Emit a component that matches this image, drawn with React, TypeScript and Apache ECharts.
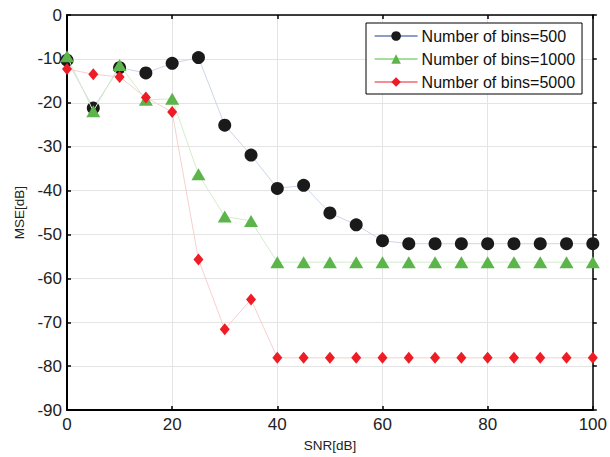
import React, { useEffect, useRef } from "react";
import * as echarts from "echarts";

const snr = [0, 5, 10, 15, 20, 25, 30, 35, 40, 45, 50, 55, 60, 65, 70, 75, 80, 85, 90, 95, 100];
const mse500 = [-10.3, -21.2, -12.0, -13.2, -11.0, -9.7, -25.1, -31.9, -39.5, -38.8, -45.1, -47.8, -51.4, -52.1, -52.1, -52.1, -52.1, -52.1, -52.1, -52.1, -52.1];
const mse1000 = [-9.4, -21.9, -11.4, -19.3, -19.1, -36.3, -45.9, -46.9, -56.3, -56.3, -56.3, -56.3, -56.3, -56.3, -56.3, -56.3, -56.3, -56.3, -56.3, -56.3, -56.3];
const mse5000 = [-12.3, -13.5, -14.1, -18.8, -22.1, -55.7, -71.6, -64.8, -78.1, -78.1, -78.1, -78.1, -78.1, -78.1, -78.1, -78.1, -78.1, -78.1, -78.1, -78.1, -78.1];
const seriesNames = ["Number of bins=500", "Number of bins=1000", "Number of bins=5000"];
const xAxisName = "SNR[dB]";
const yAxisName = "MSE[dB]";

const FONT = "Liberation Sans, Arial, sans-serif";

export default function App() {
  const ref = useRef<HTMLDivElement>(null);
  useEffect(() => {
    if (!ref.current) return;
    const chart = echarts.init(ref.current, undefined, { renderer: "svg" });
    const pairs = (ys: number[]) => snr.map((x, i) => [x, ys[i]]);
    const gridLine = { show: true, lineStyle: { color: "#e4e4e4", width: 1 } };
    chart.setOption({
      animation: false,
      backgroundColor: "#ffffff",
      textStyle: { fontFamily: FONT },
      grid: { left: 67, right: 14, top: 15, bottom: 43, containLabel: false },
      legend: {
        orient: "vertical",
        left: 366,
        top: 23,
        padding: [5, 7, 4, 8],
        itemWidth: 43,
        itemHeight: 12,
        itemGap: 7,
        borderColor: "#000",
        borderWidth: 1,
        backgroundColor: "#fff",
        textStyle: { fontSize: 16, color: "#111", fontFamily: FONT, padding: [0, 0, 0, -1] },
        data: [
          { name: seriesNames[0], lineStyle: { color: "#1f3a93", opacity: 1, width: 1.2 }, itemStyle: { color: "#1a1a1a" } },
          { name: seriesNames[1], lineStyle: { color: "#4fbf3a", opacity: 1, width: 1.2 }, itemStyle: { color: "#5cb54a" } },
          { name: seriesNames[2], lineStyle: { color: "#e8202a", opacity: 1, width: 1.2 }, itemStyle: { color: "#ee1c25" } },
        ],
      },
      xAxis: [
        {
          type: "value",
          min: 0,
          max: 100,
          interval: 20,
          name: xAxisName,
          nameLocation: "middle",
          nameGap: 27,
          nameTextStyle: { fontSize: 13.5, color: "#222", fontFamily: FONT },
          axisLine: { show: true, onZero: false, lineStyle: { color: "#000", width: 2 } },
          axisTick: { show: true, inside: true, length: 4, lineStyle: { color: "#000", width: 1.5 } },
          axisLabel: { fontSize: 17, color: "#222", margin: 6, fontFamily: FONT },
          splitLine: gridLine,
        },
        {
          type: "value",
          position: "top",
          min: 0,
          max: 100,
          interval: 20,
          axisLine: { show: true, onZero: false, lineStyle: { color: "#000", width: 1.5 } },
          axisTick: { show: true, inside: true, length: 4, lineStyle: { color: "#000", width: 1.5 } },
          axisLabel: { show: false },
          splitLine: { show: false },
        },
      ],
      yAxis: [
        {
          type: "value",
          min: -90,
          max: 0,
          interval: 10,
          name: yAxisName,
          nameLocation: "middle",
          nameGap: 40,
          nameTextStyle: { fontSize: 13.5, color: "#222", fontFamily: FONT },
          axisLine: { show: true, onZero: false, lineStyle: { color: "#000", width: 2 } },
          axisTick: { show: true, inside: true, length: 4, lineStyle: { color: "#000", width: 1.5 } },
          axisLabel: { fontSize: 17, color: "#222", margin: 5, fontFamily: FONT },
          splitLine: gridLine,
        },
        {
          type: "value",
          position: "right",
          min: -90,
          max: 0,
          interval: 10,
          axisLine: { show: true, onZero: false, lineStyle: { color: "#000", width: 1.5 } },
          axisTick: { show: true, inside: false, length: 4, lineStyle: { color: "#000", width: 1.5 } },
          axisLabel: { show: false },
          splitLine: { show: false },
        },
      ],
      series: [
        {
          name: seriesNames[0],
          type: "line",
          data: pairs(mse500),
          symbol: "circle",
          symbolSize: 13,
          itemStyle: { color: "#1a1a1a" },
          lineStyle: { color: "#cdd4ec", width: 1 },
          z: 3,
        },
        {
          name: seriesNames[1],
          type: "line",
          data: pairs(mse1000),
          symbol: "triangle",
          symbolSize: [14, 12],
          itemStyle: { color: "#5cb54a" },
          lineStyle: { color: "#d3edcc", width: 1 },
          z: 4,
        },
        {
          name: seriesNames[2],
          type: "line",
          data: pairs(mse5000),
          symbol: "diamond",
          symbolSize: [10, 12],
          itemStyle: { color: "#ee1c25" },
          lineStyle: { color: "#f8cfcf", width: 1 },
          z: 5,
        },
      ],
    });
    return () => chart.dispose();
  }, []);
  return <div ref={ref} style={{ width: 610, height: 457, position: "absolute", left: 0, top: 0 }} />;
}
